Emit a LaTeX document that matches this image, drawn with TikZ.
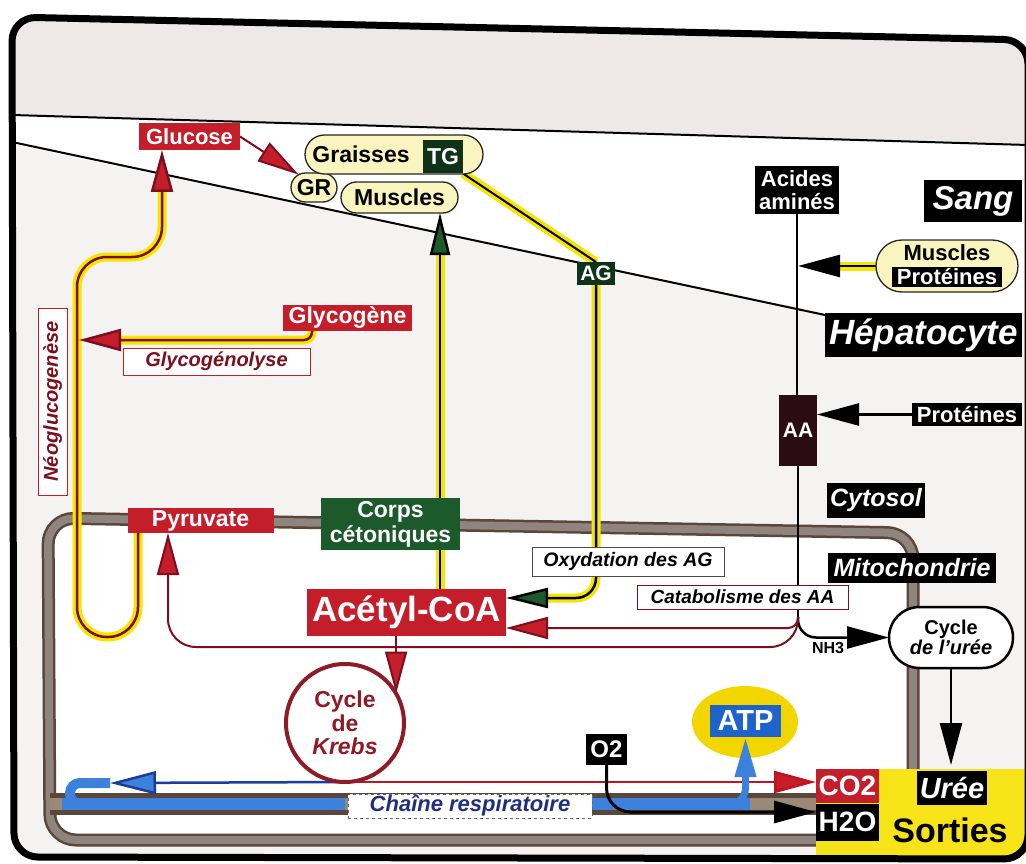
\documentclass[tikz,border=0pt]{standalone}
\usepackage{fontspec}
\setmainfont{Liberation Sans}
\usetikzlibrary{arrows.meta,shapes.misc,shapes.geometric,calc}
\pgfdeclarelayer{back}
\pgfdeclarelayer{mid}
\pgfsetlayers{back,mid,main}
\definecolor{redbox}{HTML}{C41E2A}
\definecolor{redline}{HTML}{C0141F}
\definecolor{dred}{HTML}{7B0F1E}
\definecolor{yel}{HTML}{F5E500}
\definecolor{dgreen}{HTML}{1C5A2B}
\definecolor{tgc}{HTML}{0F3318}
\definecolor{maroon}{HTML}{2A0C14}
\definecolor{pill}{HTML}{FAF4BE}
\definecolor{memb}{HTML}{8F857E}
\definecolor{membd}{HTML}{5A463A}
\definecolor{bandin}{HTML}{9A8878}
\definecolor{bluec}{HTML}{3C82DC}
\definecolor{bluel}{HTML}{1B3C9C}
\definecolor{navy}{HTML}{1F2F7E}
\definecolor{topband}{HTML}{EEE8E6}
\definecolor{hepa}{HTML}{F5F3F2}
\definecolor{atpy}{HTML}{F3D500}
\definecolor{atpb}{HTML}{1E63C9}
\definecolor{krebsc}{HTML}{8E1B25}
\definecolor{sorties}{HTML}{F6E318}
\begin{document}
\begin{tikzpicture}[x=1pt,y=-1pt,
  wh/.style 2 args={minimum width=#1pt, minimum height=#2pt},
  fs/.style={font=\bfseries\fontsize{#1}{#1}\selectfont},
  fsi/.style={font=\bfseries\itshape\fontsize{#1}{#1}\selectfont},
  fstwo/.style 2 args={font=\bfseries\fontsize{#1}{#2}\selectfont},
  lab/.style={inner sep=0pt, outer sep=0pt, text=white, align=center},
  redb/.style={lab, fill=redbox},
  blkb/.style={lab, fill=black},
  grnb/.style={lab, fill=dgreen},
  pillb/.style={rounded rectangle, draw=black!85, line width=1.3pt, fill=pill, inner sep=0pt, outer sep=0pt, text=black, align=center},
  wbox/.style={inner sep=0pt, outer sep=0pt, fill=white, draw=#1, line width=0.8pt},
  hl/.style={preaction={draw=yel, line width=9pt, arrows=-, shorten >=#1}},
  hl/.default=0pt,
  tipR/.style={-{Triangle[length=42pt,width=22pt,fill=redbox]}},
  tipK/.style={-{Triangle[length=42pt,width=22pt,fill=black]}},
  tipG/.style={-{Triangle[length=42pt,width=20pt,fill=dgreen]}},
  tipB/.style={-{Triangle[length=46pt,width=23pt,fill=bluec]}},
]
\useasboundingbox (0,0) rectangle (1026,864);

% ---------- nodes ----------
\node[redb, wh={101}{27}, fs=22] (glucose) at (189.5,136.5) {Glucose};
\node[pillb, wh={46}{29}, fs=23] (gr) at (314,187.5) {GR};
\node[pillb, wh={178}{39}] (graisses) at (394,154.5) {};
\node[fs=23, inner sep=0pt] (graissestxt) at (361,154) {Graisses};
\node[lab, fill=tgc, wh={40}{33}, fs=23] (tg) at (443,157) {TG};
\node[pillb, wh={117}{31}, fs=23] (muscles) at (399.5,197.5) {Muscles};
\node[blkb, wh={84}{48}, fstwo={22}{23}] (acides) at (797,190) {Acides\\aminés};
\node[blkb, wh={98}{42}, fsi=33] (sang) at (973,201) {Sang};
\node[pillb, wh={142}{52}] (muscprot) at (947,266) {};
\node[fs=22, inner sep=0pt] (muscprottxt) at (947,253) {Muscles};
\node[blkb, wh={110}{20}, fs=22] (protmusc) at (947,276.5) {Protéines};
\node[lab, fill=tgc, wh={38}{23}, fs=21] (ag) at (596,273.5) {AG};
\node[blkb, wh={197}{44}, fsi=35] (hep) at (923.5,335) {Hépatocyte};
\node[redb, wh={129}{26}, fs=23] (glycogene) at (347.5,318) {Glycogène};
\node[wbox=redbox, wh={187}{27}, fsi=20, text=dred] (glycolyse) at (216.5,361.5) {Glycogénolyse};
\node[wbox=redbox, wh={187}{29}, fsi=20, text=dred, rotate=90] (neo) at (52.5,401.5) {Néoglucogenèse};
\node[lab, fill=maroon, wh={38}{71}, fs=21] (aa) at (798,430.5) {AA};
\node[blkb, wh={110}{23}, fs=22] (proteines) at (967,414.5) {Protéines};
\node[blkb, wh={98}{35}, fsi=25] (cytosol) at (876,500.5) {Cytosol};
\node[blkb, wh={168}{30}, fsi=25] (mito) at (912,567.5) {Mitochondrie};
\node[redb, wh={146}{25}, fs=23] (pyruvate) at (200.5,520.5) {Pyruvate};
\node[grnb, wh={139}{52}, fstwo={23}{25}] (corps) at (390.5,524) {Corps\\cétoniques};
\node[wbox=black!70, wh={192}{29}, fsi=19.5, text=black] (oxyd) at (628,561.5) {Oxydation des AG};
\node[wbox=dred, wh={211}{24}, fsi=19, text=black] (catab) at (742.5,597) {Catabolisme des AA};
\node[redb, wh={199}{47}, fs=35] (acetyl) at (406.5,612) {Acétyl-CoA};
\node[circle, draw=krebsc, line width=4pt, fill=white, minimum size=118pt, inner sep=0pt, outer sep=0pt, align=center, text=krebsc, fstwo={23}{23.5}] (krebs) at (345,723) {Cycle\\de\\\textit{Krebs}};
\node[rounded rectangle, draw=black, line width=2.5pt, fill=white, wh={124}{61}, inner sep=0pt, outer sep=0pt, align=center, fstwo={20}{20}] (urea) at (951,637.5) {Cycle\\\textit{de l'urée}};
\node[fs=16, inner sep=0pt] (nh3) at (828,648) {NH3};
\node[lab, fill=atpb, wh={71}{32}, fs=29] (atp) at (745.5,721) {ATP};
\node[blkb, wh={41}{31}, fs=24] (o2) at (606.5,749.5) {O2};
\node[redb, wh={63}{34}, fs=28] (co2) at (847.5,786) {CO2};
\node[blkb, wh={63}{37}, fs=28] (h2o) at (847.5,822) {H2O};
\node[blkb, wh={70}{34}, fsi=29] (uree) at (952,788) {Urée};
\node[fs=34, inner sep=0pt] (sorties) at (950,830) {Sorties};
\node[inner sep=0pt, fill=white, draw=black!60, dashed, line width=0.8pt, wh={244}{24}, fsi=22, text=navy] (chaine) at (470,806) {Chaîne respiratoire};

% ---------- background ----------
\begin{pgfonlayer}{back}
\begin{scope}
\clip[rounded corners=24] (12,17) -- (1028,40) -- (1028,859) -- (14,857) -- cycle;
\fill[white] (0,0) rectangle (1030,864);
\fill[topband] (0,0) -- (1030,0) -- (1030,145) -- (0,114.6) -- cycle;
\fill[hepa] (0,142) -- (825,313) -- (1030,313) -- (1030,864) -- (0,864) -- cycle;
\fill[white, rounded corners=26] (48,518) -- (913,533) -- (913,840) -- (50,840) -- cycle;
\draw[membd, line width=13pt, rounded corners=26] (48,518) -- (913,533) -- (913,840) -- (50,840) -- cycle;
\draw[memb, line width=8pt, rounded corners=26] (48,518) -- (913,533) -- (913,840) -- (50,840) -- cycle;
\fill[membd] (50,793) rectangle (816,815);
\fill[bandin] (50,798) rectangle (816,810);
\fill[bluec] (62,798) rectangle (345,810);
\fill[bluec] (590,798) rectangle (750,810);
\fill[sorties] (816,769) rectangle (1030,864);
\end{scope}
\draw[line width=2pt] (12,115) -- (1028,145);
\draw[line width=2pt] (12,142) -- ([yshift=-2pt]hep.north west);
\node[ellipse, fill=atpy, minimum width=106pt, minimum height=72pt, inner sep=0pt] (atpglow) at (745,722) {};
\end{pgfonlayer}

% ---------- connectors ----------
\begin{pgfonlayer}{mid}
\coordinate (neoA) at (79,340);
\coordinate (cx) at (440,0);
\coordinate (bluetip) at (110,783);
\coordinate (bandB) at (690,804);
\coordinate (jn) at (798,617);
\coordinate (aaline) at (798,266);
\coordinate (pyrfoot) at (168,647);
% neoglucogenese
\draw[hl=40pt, dred, line width=2.5pt, rounded corners=30, tipR]
  ([xshift=10.5pt]pyruvate.south west) -- (138,637) -- (77,637) -- (77,257) -- (162,257) -- ([xshift=-27.5pt]glucose.south);
% glycogenolyse
\draw[hl=40pt, dred, line width=2.5pt, rounded corners=8, tipR] ([xshift=29pt]glycogene.south west) |- (neoA);
% glucose -> GR
\draw[dred, line width=2pt, tipR] (glucose.east) -- (gr.140);
% TG -> AG
\draw[hl, black, line width=2pt] (tg.south east) -- (ag.north);
% AG -> Acetyl-CoA
\draw[hl=38pt, black, line width=2.5pt, rounded corners=20, tipG] (ag.south) |- ([yshift=14pt]acetyl.east);
% Acetyl -> Corps -> Muscles
\draw[hl, black, line width=2.5pt] (cx |- acetyl.north) -- (cx |- corps.south);
\draw[hl=40pt, black, line width=2.5pt, tipG] (cx |- corps.north) -- (cx |- muscles.south);
% Acetyl -> Krebs
\draw[dred, line width=2pt, tipR] (krebs.30 |- acetyl.south) -- (krebs.30);
% Krebs -> CO2
\draw[redline, line width=2.5pt, tipR] (krebs.south) -- (krebs.south -| co2.west);
% Krebs -> chaine (blue)
\draw[bluel, line width=2.5pt, tipB] (krebs.south) -- (bluetip);
\draw[bluec, line width=10pt, rounded corners=10] (bluetip) -- (70,783) -- (70,804) -- (345,804);
% chaine -> ATP
\draw[bluec, line width=7pt, rounded corners=16, -{Triangle[length=40pt,width=20pt]}] (bandB) -| (atp.south);
% O2 -> H2O
\draw[black, line width=3pt, rounded corners=24, tipK] (o2.south) |- ([yshift=10pt]h2o.west);
% uree
\draw[black, line width=2.5pt, tipK, shorten >=6pt] (urea.south) -- (urea.south |- uree.north);
% amino acids
\draw[black, line width=2.5pt] (acides.south) -- (acides.south |- aa.north);
\draw[black, line width=2.5pt] (aa.south) -- (jn);
\draw[hl=42pt, black, line width=2.5pt, tipK] (muscprot.west) -- (aaline);
\draw[black, line width=2.5pt, tipK] (proteines.west) -- (proteines.west -| aa.east);
\draw[black, line width=2.5pt, rounded corners=18, tipK] (jn) |- (urea.west);
\draw[dred, line width=2pt, rounded corners=10, tipR] (jn) |- ([yshift=-16pt]acetyl.east);
\draw[dred, line width=2pt, rounded corners=28, tipR] (jn) |- (pyrfoot) -- ([xshift=40.5pt]pyruvate.south west);
\end{pgfonlayer}

% ---------- frame ----------
\draw[line width=7pt, rounded corners=24] (12,17) -- (1028,40) -- (1028,859) -- (14,857) -- cycle;
\end{tikzpicture}
\end{document}
